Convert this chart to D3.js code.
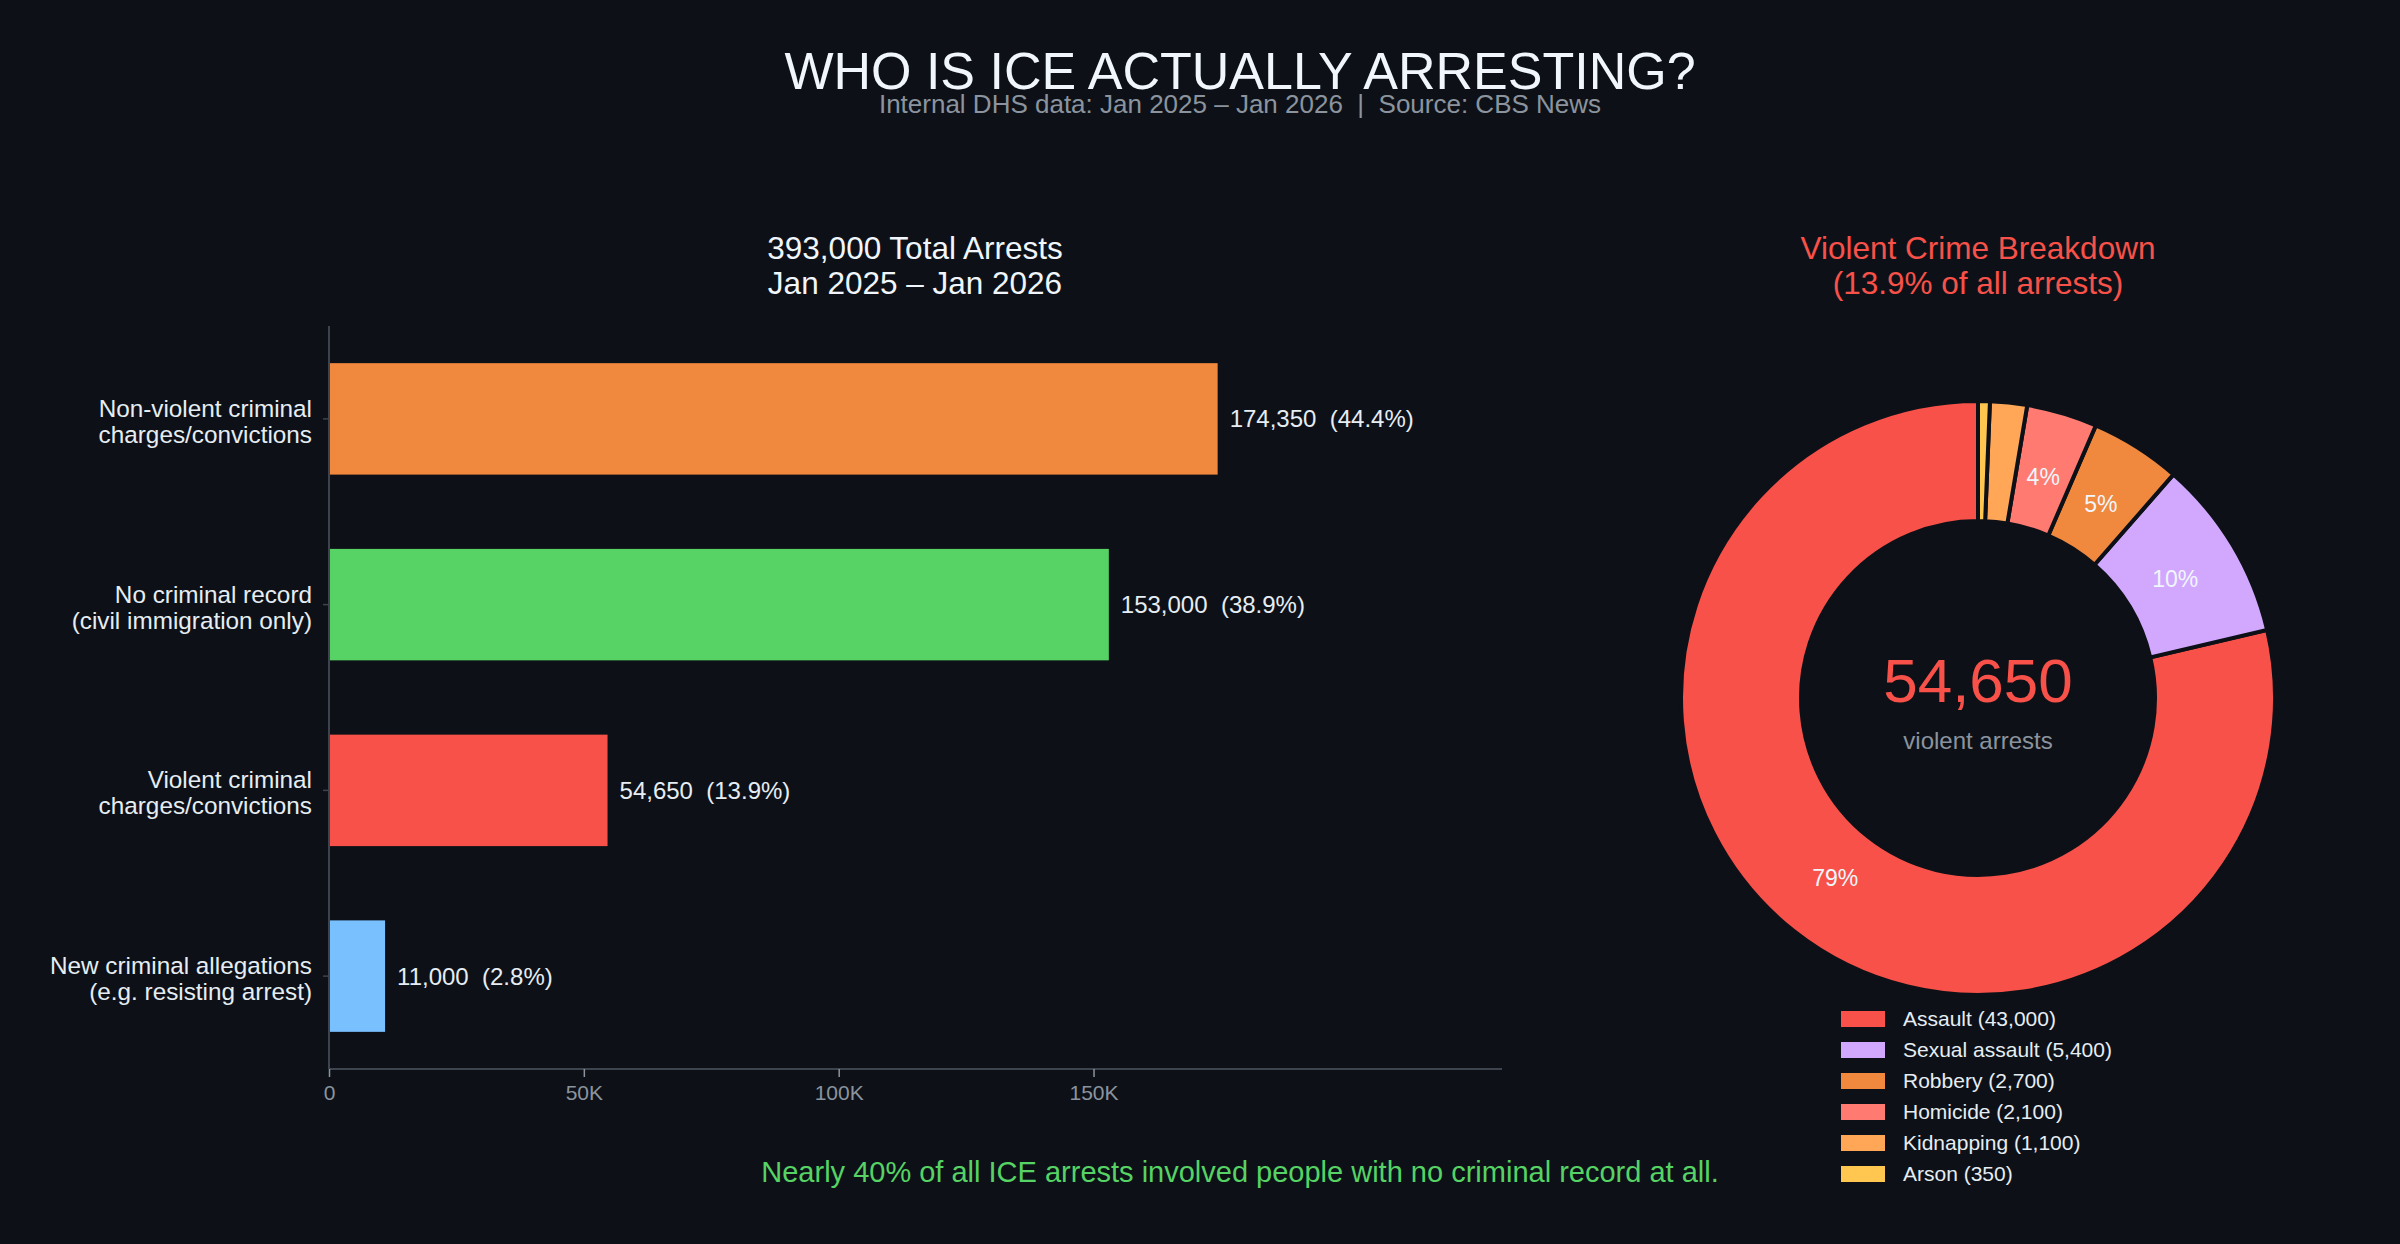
<!DOCTYPE html>
<html>
<head>
<meta charset="utf-8">
<script src="https://cdn.jsdelivr.net/npm/d3@7"></script>
<style>
  body { margin: 0; background: #0d1117; }
  text { font-family: "Liberation Sans", Arial, Helvetica, sans-serif; }
</style>
</head>
<body>
<div id="chart"></div>
<script>
// bar chart data
const categories = [
  "Non-violent criminal\ncharges/convictions",
  "No criminal record\n(civil immigration only)",
  "Violent criminal\ncharges/convictions",
  "New criminal allegations\n(e.g. resisting arrest)"
];
const arrests = [174350, 153000, 54650, 11000];
const shares = [44.4, 38.9, 13.9, 2.8];
const barColors = ["#f0883e", "#56d364", "#f85149", "#79c0ff"];
const xTicks = [0, 50000, 100000, 150000];
const xTickLabels = ["0", "50K", "100K", "150K"];

// donut data
const crimeTypes = ["Assault", "Sexual assault", "Robbery", "Homicide", "Kidnapping", "Arson"];
const crimeCounts = [43000, 5400, 2700, 2100, 1100, 350];
const crimeColors = ["#f85149", "#d2a8ff", "#f0883e", "#ff7b72", "#ffa657", "#ffc74f"];

const width = 2400, height = 1244;
const bg = "#0d1117";

const svg = d3.select("#chart").append("svg")
  .attr("width", width)
  .attr("height", height);

svg.append("rect").attr("width", width).attr("height", height).attr("fill", bg);

// titles
svg.append("text")
  .attr("x", 1240).attr("y", 89)
  .attr("text-anchor", "middle")
  .attr("font-size", "52px")
  .attr("fill", "#f0f6fc")
  .text("WHO IS ICE ACTUALLY ARRESTING?");

svg.append("text")
  .attr("x", 1240).attr("y", 113)
  .attr("text-anchor", "middle")
  .attr("font-size", "26px")
  .attr("fill", "#8b949e")
  .style("white-space", "pre")
  .text("Internal DHS data: Jan 2025 \u2013 Jan 2026  |  Source: CBS News");

// ---- bar chart ----
const plotL = 329, plotR = 1502, plotT = 326, plotB = 1069;

const x = d3.scaleLinear()
  .domain([0, d3.max(arrests) * 1.32])
  .range([plotL, plotR]);

const y = d3.scaleBand()
  .domain(categories)
  .range([plotT, plotB])
  .paddingInner(0.4)
  .paddingOuter(0.2);

svg.append("text")
  .attr("x", 915).attr("y", 259)
  .attr("text-anchor", "middle")
  .attr("font-size", "31.5px")
  .attr("fill", "#f0f6fc")
  .text(d3.format(",")(393000) + " Total Arrests");
svg.append("text")
  .attr("x", 915).attr("y", 294)
  .attr("text-anchor", "middle")
  .attr("font-size", "31.5px")
  .attr("fill", "#f0f6fc")
  .text("Jan 2025 \u2013 Jan 2026");

const bars = categories.map((c, i) => ({ cat: c, val: arrests[i], pct: shares[i], color: barColors[i] }));

svg.selectAll("rect.bar")
  .data(bars)
  .enter()
  .append("rect")
  .attr("class", "bar")
  .attr("x", x(0))
  .attr("y", d => y(d.cat))
  .attr("width", d => x(d.val) - x(0))
  .attr("height", y.bandwidth())
  .attr("fill", d => d.color);

svg.selectAll("text.val")
  .data(bars)
  .enter()
  .append("text")
  .attr("class", "val")
  .attr("x", d => x(d.val) + 12)
  .attr("y", d => y(d.cat) + y.bandwidth() / 2)
  .attr("dy", "0.35em")
  .attr("font-size", "24px")
  .attr("fill", "#e6edf3")
  .style("white-space", "pre")
  .text(d => d3.format(",")(d.val) + "  (" + d.pct.toFixed(1) + "%)");

// x axis
const xAxis = svg.append("g")
  .attr("transform", `translate(0, ${plotB})`)
  .call(d3.axisBottom(x).tickValues(xTicks).tickFormat((d, i) => xTickLabels[i]).tickSize(8).tickPadding(8));
xAxis.select(".domain").attr("stroke", "#3d444d").attr("stroke-width", 2)
  .attr("d", `M${plotL},0H${plotR}`);
xAxis.selectAll(".tick line").attr("stroke", "#8b949e").attr("stroke-width", 1.5);
xAxis.selectAll(".tick text")
  .attr("fill", "#8b949e")
  .attr("font-size", "21px")
  .attr("font-family", "Liberation Sans, Arial, sans-serif");

// y axis
const yAxis = svg.append("g")
  .attr("transform", `translate(${plotL}, 0)`)
  .call(d3.axisLeft(y).tickSize(6).tickFormat(""));
yAxis.select(".domain").attr("stroke", "#3d444d").attr("stroke-width", 2)
  .attr("d", `M0,${plotT}V${plotB}`);
yAxis.selectAll(".tick line").attr("stroke", "#3d444d").attr("stroke-width", 1.5);

svg.selectAll("text.ylab")
  .data(categories)
  .enter()
  .append("text")
  .attr("class", "ylab")
  .attr("text-anchor", "end")
  .attr("font-size", "24.3px")
  .attr("fill", "#e6edf3")
  .each(function (d) {
    const lines = d.split("\n");
    const cy = y(d) + y.bandwidth() / 2;
    d3.select(this).selectAll("tspan")
      .data(lines)
      .enter()
      .append("tspan")
      .attr("x", 312)
      .attr("y", (l, j) => cy - 2 + j * 26)
      .text(l => l);
  });

// ---- donut ----
const cx = 1978, cyD = 698;
const outerR = 297, innerR = 177;
const total = 393000;

svg.append("text")
  .attr("x", cx).attr("y", 259)
  .attr("text-anchor", "middle")
  .attr("font-size", "31.5px")
  .attr("fill", "#f85149")
  .text("Violent Crime Breakdown");
svg.append("text")
  .attr("x", cx).attr("y", 294)
  .attr("text-anchor", "middle")
  .attr("font-size", "31.5px")
  .attr("fill", "#f85149")
  .text("(" + (d3.sum(crimeCounts) / total * 100).toFixed(1) + "% of all arrests)");

const crimes = crimeTypes.map((t, i) => ({ type: t, val: crimeCounts[i], color: crimeColors[i] }));
const crimeTotal = d3.sum(crimeCounts);

const pie = d3.pie()
  .value(d => d.val)
  .sort(null)
  .startAngle(0)
  .endAngle(-2 * Math.PI);

const arc = d3.arc().innerRadius(innerR).outerRadius(outerR);
const labelArc = d3.arc().innerRadius(0.78 * 295).outerRadius(0.78 * 295);

const donut = svg.append("g").attr("transform", `translate(${cx}, ${cyD})`);

donut.selectAll("path")
  .data(pie(crimes))
  .enter()
  .append("path")
  .attr("d", arc)
  .attr("fill", d => d.data.color)
  .attr("stroke", bg)
  .attr("stroke-width", 4);

donut.selectAll("text.pct")
  .data(pie(crimes).filter(d => d.data.val / crimeTotal * 100 > 3))
  .enter()
  .append("text")
  .attr("class", "pct")
  .attr("transform", d => `translate(${labelArc.centroid(d)})`)
  .attr("text-anchor", "middle")
  .attr("dy", "0.35em")
  .attr("font-size", "23px")
  .attr("fill", "#f0f6fc")
  .text(d => Math.round(d.data.val / crimeTotal * 100) + "%");

svg.append("text")
  .attr("x", cx).attr("y", 702)
  .attr("text-anchor", "middle")
  .attr("font-size", "62px")
  .attr("fill", "#f85149")
  .text(d3.format(",")(crimeTotal));
svg.append("text")
  .attr("x", cx).attr("y", 749)
  .attr("text-anchor", "middle")
  .attr("font-size", "24px")
  .attr("fill", "#8b949e")
  .text("violent arrests");

// legend
const legend = svg.append("g");
const legRows = legend.selectAll("g")
  .data(crimes)
  .enter()
  .append("g")
  .attr("transform", (d, i) => `translate(1841, ${1019 + i * 31})`);
legRows.append("rect")
  .attr("x", 0).attr("y", -8)
  .attr("width", 44).attr("height", 16)
  .attr("fill", d => d.color);
legRows.append("text")
  .attr("x", 62).attr("y", 0)
  .attr("dy", "0.35em")
  .attr("font-size", "21px")
  .attr("fill", "#e6edf3")
  .text(d => d.type + " (" + d3.format(",")(d.val) + ")");

// footnote
svg.append("text")
  .attr("x", 1240).attr("y", 1182)
  .attr("text-anchor", "middle")
  .attr("font-size", "29px")
  .attr("fill", "#56d364")
  .text("Nearly 40% of all ICE arrests involved people with no criminal record at all.");
</script>
</body>
</html>
